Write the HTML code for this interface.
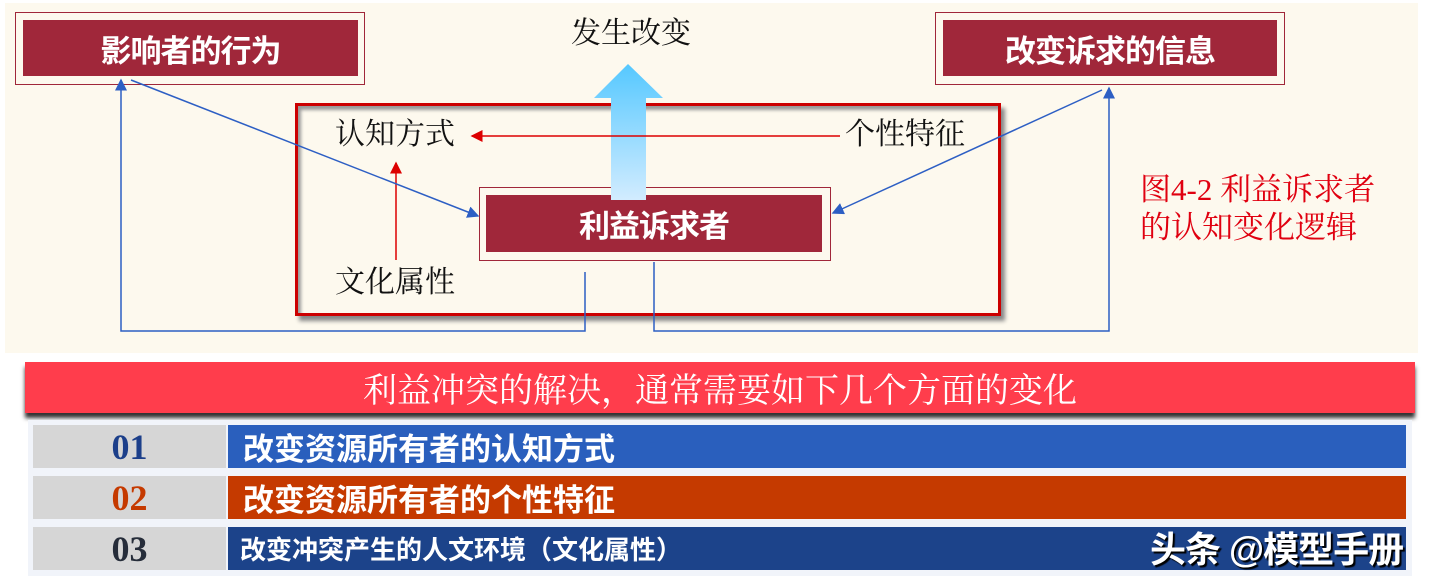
<!DOCTYPE html>
<html><head><meta charset="utf-8"><style>
body{margin:0;width:1432px;height:578px;background:#fff;position:relative;overflow:hidden;font-family:"Liberation Sans","Noto Sans CJK SC",sans-serif}
.a{position:absolute}
.bx{position:absolute;background:#a0273a;color:#fff;font-weight:bold;font-size:31px;display:flex;align-items:center;justify-content:center;letter-spacing:-1px}
.ser{font-family:"Liberation Serif","Noto Serif CJK SC",serif}
.lbl{position:absolute;font-size:30px;color:#111;font-family:"Liberation Serif","Noto Serif CJK SC",serif;line-height:1}
.row{position:absolute;left:33px;width:1373px;height:43px}
.num{position:absolute;left:0;top:0;width:193px;height:43px;background:#d6d6d6;font-family:"Liberation Serif",serif;font-weight:bold;font-size:36px;display:flex;align-items:center;justify-content:center}
.bar{position:absolute;left:195px;top:0;right:0;height:43px;color:#fff;font-weight:bold;font-size:31px;display:flex;align-items:center;padding-left:15px;box-sizing:border-box}
</style></head><body>
<div class="a" style="left:5px;top:3px;width:1413px;height:350px;background:#fdf9ee"></div>
<div class="a" style="left:15px;top:12px;width:348px;height:71px;border:1.5px solid #a0273a"></div>
<div class="bx" style="left:23px;top:20px;width:335px;height:56px">影响者的行为</div>
<div class="a" style="left:935px;top:12px;width:348px;height:71px;border:1.5px solid #a0273a"></div>
<div class="bx" style="left:943px;top:20px;width:334px;height:56px">改变诉求的信息</div>
<div class="a" style="left:295px;top:103px;width:700px;height:207px;border:3px solid #cc0000;box-shadow:4px 5px 4px #888, inset 3px 4px 3px #999"></div>
<div class="a" style="left:479px;top:187px;width:350px;height:72px;border:1.5px solid #a0273a"></div>
<div class="bx" style="left:486px;top:195px;width:336px;height:57px">利益诉求者</div>
<div class="lbl" style="left:571px;top:19px">发生改变</div>
<div class="lbl" style="left:335px;top:120px">认知方式</div>
<div class="lbl" style="left:845px;top:120px">个性特征</div>
<div class="lbl" style="left:335px;top:268px">文化属性</div>
<div class="lbl" style="left:1140px;top:174px;color:#e00010;font-size:31px">图4-2 利益诉求者</div>
<div class="lbl" style="left:1140px;top:212px;color:#e00010;font-size:31px">的认知变化逻辑</div>
<svg class="a" style="left:0;top:0" width="1432" height="360">
<defs><linearGradient id="g" x1="0" y1="0" x2="0" y2="1"><stop offset="0" stop-color="#55c8ff"/><stop offset="1" stop-color="#d2ecff"/></linearGradient>
<marker id="mb" markerWidth="8" markerHeight="8" refX="7" refY="4" orient="auto"><path d="M0,0L8,4L0,8z" fill="#2d5fc4"/></marker>
<marker id="mr" markerWidth="8" markerHeight="8" refX="7" refY="4" orient="auto"><path d="M0,0L8,4L0,8z" fill="#d00"/></marker></defs>
<polygon points="611,200 611,98 594,98 628,64 663,98 646,98 646,200" fill="url(#g)"/>
<line x1="840" y1="136" x2="472" y2="136" stroke="#d00" stroke-width="1.5" marker-end="url(#mr)"/>
<line x1="396" y1="260" x2="396" y2="163" stroke="#d00" stroke-width="1.5" marker-end="url(#mr)"/>
<g stroke="#2d5fc4" stroke-width="1.5" fill="none">
<line x1="131" y1="80" x2="478" y2="216" marker-end="url(#mb)"/>
<line x1="1102" y1="90" x2="833" y2="213" marker-end="url(#mb)"/>
<polyline points="585,272 585,331 121,331 121,80" marker-end="url(#mb)"/>
<polyline points="654,262 654,331 1109,331 1109,88" marker-end="url(#mb)"/>
</g></svg>
<div class="a ser" style="left:25px;top:362px;width:1390px;height:51px;background:#ff3d4c;color:#fff;font-size:34px;display:flex;align-items:center;justify-content:center;box-shadow:0 5px 4px #333">利益冲突的解决，通常需要如下几个方面的变化</div>
<div class="a" style="left:28px;top:420px;width:1384px;height:156px;background:#f1f4fa"></div>
<div class="row" style="top:425px"><div class="num" style="color:#1c3f8a">01</div><div class="bar" style="background:#2a5fbd">改变资源所有者的认知方式</div></div>
<div class="row" style="top:476px"><div class="num" style="color:#c53a00">02</div><div class="bar" style="background:#c53a00">改变资源所有者的个性特征</div></div>
<div class="row" style="top:527px"><div class="num" style="color:#262d3a">03</div><div class="bar" style="background:#1c438a;font-size:26px;padding-left:12px">改变冲突产生的人文环境（文化属性）</div></div>
<div class="a" style="left:1150px;top:521px;color:#fff;font-size:36px;font-weight:bold;text-shadow:2px 2px 1px #000;letter-spacing:-1px">头条 @模型手册</div>
</body></html>
